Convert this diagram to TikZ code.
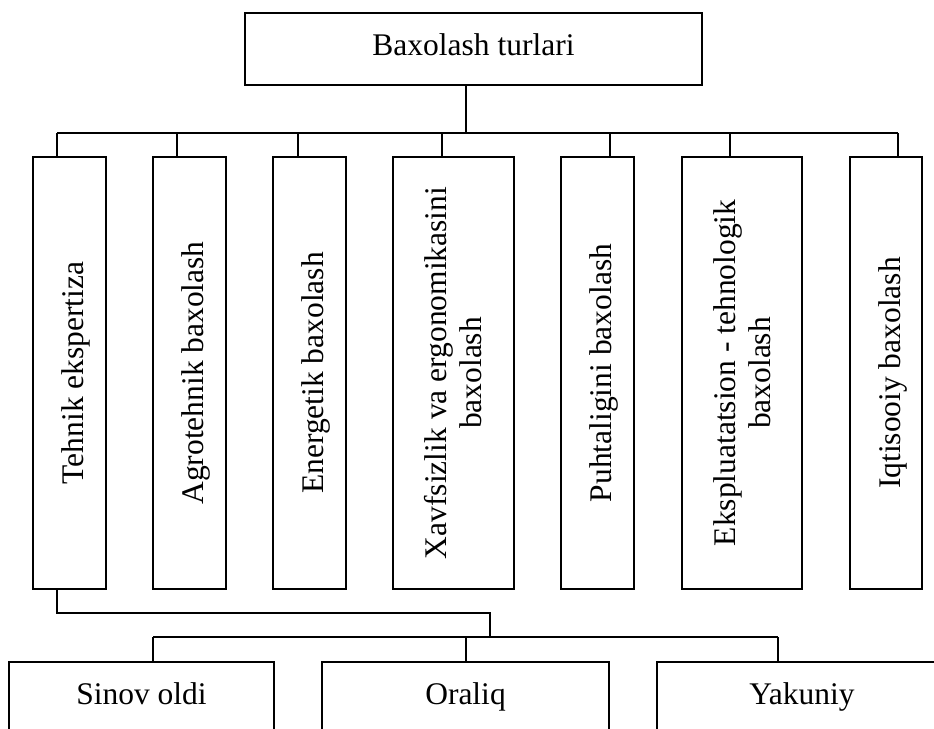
\documentclass[tikz,border=0pt]{standalone}
\usepackage{fontspec}
\setmainfont{Liberation Serif}
\usetikzlibrary{calc}

\begin{document}
\begin{tikzpicture}[x=1pt, y=-1pt, line width=1.6pt,
  box/.style={draw, rectangle, inner sep=0pt, font=\fontsize{31.5}{35}\selectfont},
  kind/.style={box, rotate=90, minimum width=432pt, minimum height=73pt,
    text height=28pt, text depth=0pt},
  kindtwo/.style={box, rotate=90, minimum width=432pt, align=center},
  stage/.style={box, minimum height=72pt, text height=22pt, text depth=10pt}]
  \useasboundingbox (0,0) rectangle (934,728);
  \clip (0,0) rectangle (934,728);
  % top box
  \node[box, minimum width=457pt, minimum height=72pt, text height=22pt, text depth=10pt]
    (root) at (473.5,49) {Baxolash turlari};
  % vertical boxes
  \node[kind] (k1) at (69.5,373) {Tehnik ekspertiza};
  \node[kind] (k2) at (189.5,373) {Agrotehnik baxolash};
  \node[kind] (k3) at (309.5,373) {Energetik baxolash};
  \node[kindtwo, minimum height=121pt] (k4) at (453.5,373) {Xavfsizlik va ergonomikasini\\baxolash};
  \node[kind] (k5) at (597.5,373) {Puhtaligini baxolash};
  \node[kindtwo, minimum height=120pt] (k6) at (742,373) {Ekspluatatsion - tehnologik\\baxolash};
  \node[kind, minimum height=72pt] (k7) at (886,373) {Iqtisooiy baxolash};
  % bottom boxes (cut by the page edge)
  \node[stage, minimum width=265pt] (s1) at (141.5,698) {Sinov oldi};
  \node[stage, minimum width=287pt] (s2) at (465.5,698) {Oraliq};
  \node[stage, minimum width=290pt] (s3) at (802,698) {Yakuniy};
  % upper bus
  \coordinate (bus) at (0,133);
  \coordinate (root-out) at ([xshift=-7.5pt]root.south);
  \draw (root-out) -- (root-out |- bus);
  \foreach \k/\dx in {k1/-12.5, k2/-12.5, k3/-11.5, k4/-11.5, k5/12.5, k6/-12, k7/12}{
    \coordinate (\k-in) at ([xshift=\dx pt]\k.east);
    \draw (\k-in) -- (\k-in |- bus);
  }
  \draw (k1-in |- bus) -- (k7-in |- bus);
  % lower bus
  \coordinate (bus2) at (0,637);
  \coordinate (turn) at (490,613);
  \coordinate (k1-out) at ([xshift=-12.5pt]k1.west);
  \draw (k1-out) |- (turn) -- (turn |- bus2);
  \foreach \s/\dx in {s1/11.5, s2/0.5, s3/-24}{
    \coordinate (\s-in) at ([xshift=\dx pt]\s.north);
    \draw (\s-in) -- (\s-in |- bus2);
  }
  \draw (s1-in |- bus2) -- (s3-in |- bus2);
\end{tikzpicture}
\end{document}
